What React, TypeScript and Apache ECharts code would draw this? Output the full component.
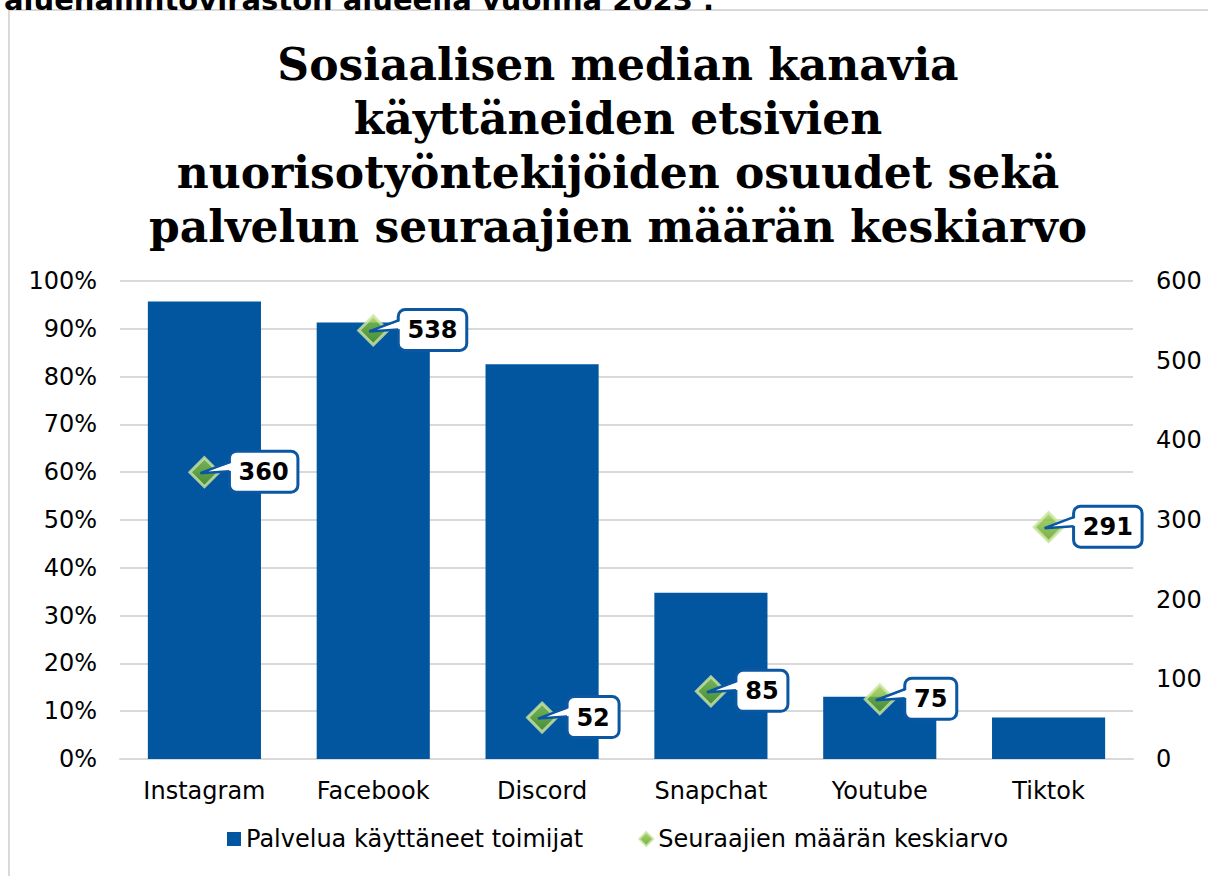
import React, { useEffect, useRef } from "react";
import * as echarts from "echarts";

const categories = ["Instagram", "Facebook", "Discord", "Snapchat", "Youtube", "Tiktok"];
const usedShare = [0.957, 0.913, 0.826, 0.348, 0.13, 0.087];
const followersAvg = [360, 538, 52, 85, 75, 291];
const seriesNames = ["Palvelua käyttäneet toimijat", "Seuraajien määrän keskiarvo"];
const titleText = "Sosiaalisen median kanavia\nkäyttäneiden etsivien\nnuorisotyöntekijöiden osuudet sekä\npalvelun seuraajien määrän keskiarvo";
const cutHeading = "aluehallintoviraston alueella vuonna 2023 .";

const FONT = '"DejaVu Sans", Verdana, sans-serif';
const BLUE = "#02559f";
const CALLOUT = "#0b57a2";

export default function App() {
  const ref = useRef<HTMLDivElement>(null);
  useEffect(() => {
    if (!ref.current) return;
    const chart = echarts.init(ref.current, null, { renderer: "svg" });
    const option: any = {
      animation: false,
      backgroundColor: "#fff",
      title: {
        text: titleText,
        left: 613,
        top: 32,
        textAlign: "center",
        textStyle: {
          fontFamily: '"DejaVu Serif", Georgia, serif',
          fontWeight: "bold",
          fontSize: 44,
          lineHeight: 54,
          color: "#000",
        },
      },
      graphic: [
        {
          type: "rect",
          z: -10,
          shape: { x: 9, y: 10, width: 1400, height: 1000 },
          style: { fill: "none", stroke: "#d9d9d9", lineWidth: 2 },
        },
        {
          type: "text",
          x: 4,
          y: 14,
          style: {
            text: cutHeading,
            font: 'bold 29px "DejaVu Sans"',
            fill: "#000",
            verticalAlign: "bottom",
          },
        },
      ],
      legend: {
        bottom: 20,
        left: 222,
        orient: "horizontal",
        data: [
          { name: seriesNames[0], icon: "rect" },
          { name: seriesNames[1], icon: "diamond" },
        ],
        itemWidth: 14,
        itemHeight: 14,
        itemGap: 55,
        textStyle: { fontFamily: FONT, fontSize: 24, color: "#000" },
      },
      grid: { left: 120, right: 75, top: 281, bottom: 117, containLabel: false },
      xAxis: {
        type: "category",
        data: categories,
        axisLine: { show: true, lineStyle: { color: "#d9d9d9", width: 2 } },
        axisTick: { show: false },
        axisLabel: { fontFamily: FONT, fontSize: 24, color: "#000", margin: 20 },
      },
      yAxis: [
        {
          type: "value",
          min: 0,
          max: 1,
          interval: 0.1,
          axisLine: { show: false },
          axisTick: { show: false },
          splitLine: { lineStyle: { color: "#d9d9d9", width: 2 } },
          axisLabel: {
            fontFamily: FONT,
            fontSize: 24,
            color: "#000",
            margin: 23,
            formatter: (v: number) => Math.round(v * 100) + "%",
          },
        },
        {
          type: "value",
          min: 0,
          max: 600,
          interval: 100,
          axisLine: { show: false },
          axisTick: { show: false },
          splitLine: { show: false },
          axisLabel: { fontFamily: FONT, fontSize: 24, color: "#000", margin: 23 },
        },
      ],
      series: [
        {
          name: seriesNames[0],
          type: "bar",
          data: usedShare,
          barCategoryGap: "33%",
          itemStyle: { color: BLUE },
          z: 2,
        },
        {
          name: seriesNames[1],
          type: "scatter",
          yAxisIndex: 1,
          data: followersAvg,
          symbol: "diamond",
          symbolSize: 29,
          itemStyle: {
            color: new echarts.graphic.LinearGradient(0, 0, 0, 1, [
              { offset: 0, color: "#96cc4a" },
              { offset: 1, color: "#55991c" },
            ]),
            borderColor: "#cde6a4",
            borderWidth: 3,
          },
          z: 5,
        },
        {
          name: "callouts",
          type: "custom",
          yAxisIndex: 1,
          clip: false,
          z: 6,
          data: followersAvg.map((v, i) => [i, v]),
          renderItem: (params: any, api: any) => {
            const v = api.value(1);
            const pt = api.coord([api.value(0), v]);
            const txt = String(v);
            const w = txt.length * 16.5 + 19;
            const h = 41;
            const bx = pt[0] + 25;
            const by = pt[1] - 21;
            const y1 = pt[1] - 10;
            const y2 = pt[1] - 1;
            const tip = [pt[0] - 4, pt[1] + 1];
            return {
              type: "group",
              children: [
                {
                  type: "rect",
                  shape: { x: bx, y: by, width: w, height: h, r: 7 },
                  style: { fill: "#fff", stroke: CALLOUT, lineWidth: 3 },
                },
                {
                  type: "polygon",
                  shape: { points: [[bx + 2.5, y1 + 0.5], [bx + 2.5, y2 - 0.5], tip] },
                  style: { fill: "#fff" },
                },
                {
                  type: "polyline",
                  shape: { points: [[bx, y1], tip, [bx, y2]] },
                  style: { fill: null, stroke: CALLOUT, lineWidth: 2.5 },
                },
                {
                  type: "text",
                  x: bx + w / 2,
                  y: pt[1],
                  style: {
                    text: txt,
                    fill: "#000",
                    fontFamily: FONT,
                    fontWeight: "bold",
                    fontSize: 24,
                    align: "center",
                    verticalAlign: "middle",
                  },
                },
              ],
            };
          },
        },
      ],
    };
    chart.setOption(option);
    return () => chart.dispose();
  }, []);
  return (
    <div
      ref={ref}
      style={{ position: "fixed", left: 0, top: 0, width: 1208, height: 876 }}
    />
  );
}
